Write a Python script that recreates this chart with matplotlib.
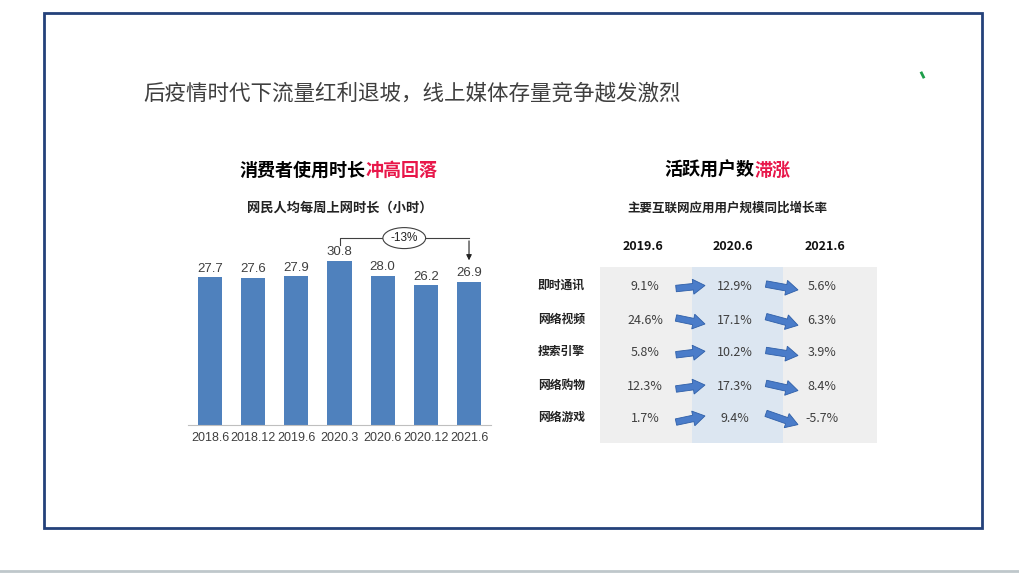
import numpy as np
import matplotlib
matplotlib.use('Agg')
import matplotlib.pyplot as plt
from matplotlib.patches import Rectangle, FancyArrow

plt.rcParams['font.family'] = ['Noto Sans CJK SC', 'DejaVu Sans']

# 数据
periods = ['2018.6', '2018.12', '2019.6', '2020.3', '2020.6', '2020.12', '2021.6']
hours = [27.7, 27.6, 27.9, 30.8, 28.0, 26.2, 26.9]
drop_label = '-13%'

apps = ['即时通讯', '网络视频', '搜索引擎', '网络购物', '网络游戏']
years = ['2019.6', '2020.6', '2021.6']
g2019 = [9.1, 24.6, 5.8, 12.3, 1.7]
g2020 = [12.9, 17.1, 10.2, 17.3, 9.4]
g2021 = [5.6, 6.3, 3.9, 8.4, -5.7]

W, H = 1019, 573
dark = '#3F3F3F'
red = '#E8174A'
blue = '#4F81BD'
arial = ['Liberation Sans', 'DejaVu Sans']

fig = plt.figure(figsize=(W / 100, H / 100), dpi=100)
bg = fig.add_axes([0, 0, 1, 1], zorder=0)
bg.set_xlim(0, W)
bg.set_ylim(H, 0)
bg.axis('off')

# 边框
bg.add_patch(Rectangle((44, 13), 938, 515, fill=False, ec='#24417A', lw=2))
bg.plot([0, W], [571, 571], color='#BFC7CB', lw=2)
bg.plot([921.5, 923.5], [73, 77], color='#1E9E4A', lw=2)

# 标题
bg.text(143, 93, '后疫情时代下流量红利退坡，线上媒体存量竞争越发激烈',
        fontsize=15.5, color=dark, va='center', ha='left')

t1 = bg.text(240, 170, '消费者使用时长', fontsize=13, weight='bold', color='black', va='center')
bg.annotate('冲高回落', xy=(1, 0.5), xycoords=t1, fontsize=13, weight='bold', color=red,
            va='center', ha='left')
bg.text(340, 208, '网民人均每周上网时长（小时）', fontsize=9.5, weight='bold', color='#222222',
        ha='center', va='center')

t2 = bg.text(664, 170, '活跃用户数', fontsize=13, weight='bold', color='black', va='center')
bg.annotate('滞涨', xy=(1, 0.5), xycoords=t2, fontsize=13, weight='bold', color=red,
            va='center', ha='left')
bg.text(727, 208, '主要互联网应用用户规模同比增长率', fontsize=9, weight='bold', color='#222222',
        ha='center', va='center')

# 柱状图
left, right, base, top = 188.4, 490.6, 425, 233.3
ax = fig.add_axes([left / W, (H - base) / H, (right - left) / W, (base - top) / H], zorder=1)
ax.patch.set_alpha(0)
x = np.arange(len(periods))
ax.bar(x, hours, width=0.56, color=blue)
for xi, v in zip(x, hours):
    ax.text(xi, v + 0.5, f'{v:.1f}', ha='center', va='bottom', fontsize=9.5,
            color=dark, family=arial)
ax.set_xlim(-0.5, 6.5)
ax.set_ylim(0, 36)
ax.set_xticks(x)
ax.set_xticklabels(periods, fontsize=9, color=dark, family=arial)
ax.tick_params(length=0, pad=5)
ax.set_yticks([])
for s in ['top', 'left', 'right']:
    ax.spines[s].set_visible(False)
ax.spines['bottom'].set_color('#BFBFBF')

# -13% 标注
i0, i1 = 3, 6
ax.plot([i0, i0, i1], [hours[i0] + 3.0, hours[i0] + 4.3, hours[i0] + 4.3],
        color='#404040', lw=0.8, clip_on=False)
ax.annotate('', xy=(i1, hours[i1] + 3.5), xytext=(i1, hours[i0] + 4.3),
            arrowprops=dict(arrowstyle='-|>', color='#222222', lw=0.8, mutation_scale=8),
            annotation_clip=False)
ax.text((i0 + i1) / 2, hours[i0] + 4.3, drop_label, ha='center', va='center',
        fontsize=8.5, color='#222222', family=arial,
        bbox=dict(boxstyle='ellipse,pad=0.12', fc='white', ec='#404040', lw=0.8))

# 表格
bg.add_patch(Rectangle((600, 267), 277, 176, color='#EFEFEF', lw=0))
bg.add_patch(Rectangle((692, 267), 91, 176, color='#DCE6F1', lw=0))

col_x = [645, 735, 822]
head_x = [643, 733, 825]
row_y = [287, 321, 353, 387, 419]
for hx, yr in zip(head_x, years):
    bg.text(hx, 247, yr, ha='center', va='center', fontsize=9, weight='bold', color='#111111')

cols = [g2019, g2020, g2021]
for r, (name, yy) in enumerate(zip(apps, row_y)):
    bg.text(538, yy - 2, name, ha='left', va='center', fontsize=8.5, weight='bold', color='#222222')
    for c in range(3):
        bg.text(col_x[c], yy, f'{cols[c][r]:.1f}%', ha='center', va='center',
                fontsize=9, color=dark)

arrow_x = [(676, 705), (766, 798)]
for r, yy in enumerate(row_y):
    for c in range(2):
        delta = cols[c + 1][r] - cols[c][r]
        dy = -np.clip(delta, -14, 14) * 0.8
        x0, x1 = arrow_x[c]
        bg.add_patch(FancyArrow(x0, yy - dy / 2, x1 - x0, dy, width=6.5, head_width=15,
                                head_length=12, length_includes_head=True,
                                fc='#4A7CC9', ec='#2F5FA8', lw=0.6))

fig.savefig('out.png', dpi=100)
